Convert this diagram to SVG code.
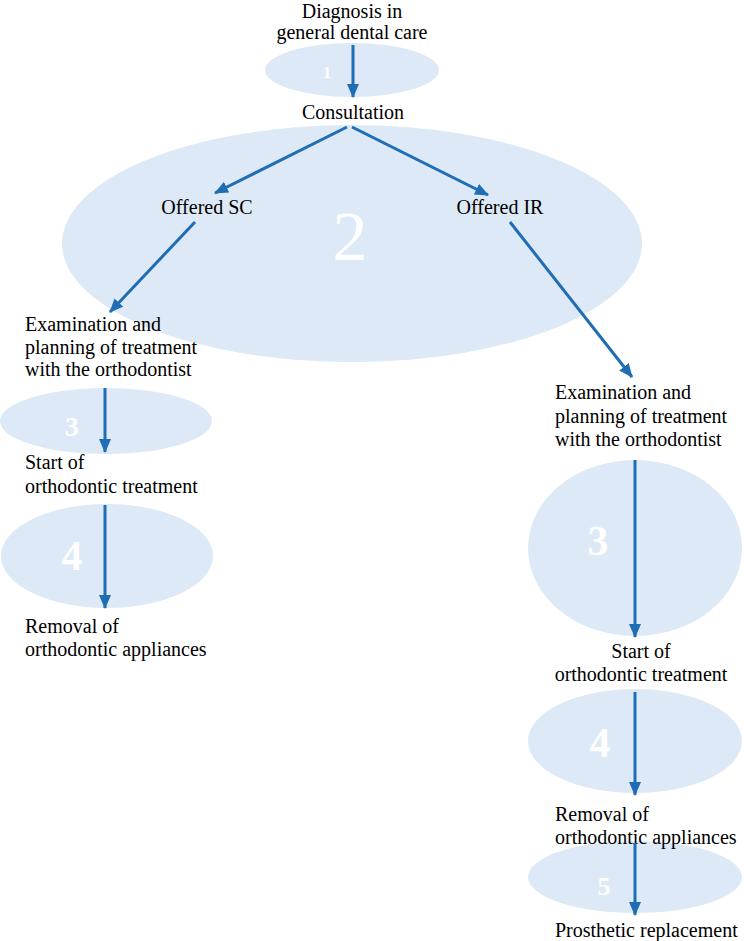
<svg xmlns="http://www.w3.org/2000/svg" width="744" height="941" viewBox="0 0 744 941">
<style>
.e{fill:#dde9f6}
.t{font-family:"Liberation Serif",serif;font-size:20px;fill:#000}
.m{text-anchor:middle}
.n{font-family:"Liberation Serif",serif;fill:#fff;font-weight:bold;text-anchor:middle}
.c line{stroke:#1f6db5;stroke-width:3;marker-end:url(#a)}
</style>
<defs><marker id="a" markerWidth="14" markerHeight="12" refX="13" refY="6" orient="auto" markerUnits="userSpaceOnUse"><path d="M0,0 L14,6 L0,12 Z" fill="#1f6db5"/></marker></defs>
<rect width="744" height="941" fill="#fff"/>
<g id="bg">
<ellipse class="e" cx="352" cy="70" rx="87" ry="27"/><text class="n" x="327" y="78" font-size="17">1</text>
<ellipse class="e" cx="352" cy="243.5" rx="290" ry="118.5"/><text x="350" y="260" font-size="70" fill="#fff" text-anchor="middle" font-family="Liberation Serif,serif">2</text>
<ellipse class="e" cx="106" cy="421" rx="106" ry="33"/><text class="n" x="72" y="436" font-size="28">3</text>
<ellipse class="e" cx="107" cy="556" rx="106" ry="52"/><text class="n" x="72" y="570" font-size="42">4</text>
<ellipse class="e" cx="635" cy="548" rx="107" ry="88"/><text class="n" x="598" y="555" font-size="42">3</text>
<ellipse class="e" cx="635" cy="741" rx="107" ry="52"/><text class="n" x="600" y="757" font-size="42">4</text>
<ellipse class="e" cx="635" cy="877" rx="107" ry="36"/><text class="n" x="604" y="895" font-size="26">5</text>
</g>
<g id="n1"><text class="t m" x="352" y="18">Diagnosis in</text><text class="t m" x="352" y="39">general dental care</text></g>
<g id="n2"><text class="t m" x="353" y="119">Consultation</text></g>
<g id="n3"><text class="t m" x="207" y="214">Offered SC</text></g>
<g id="n4"><text class="t m" x="500" y="214">Offered IR</text></g>
<g id="n5"><text class="t" x="25" y="331">Examination and</text><text class="t" x="25" y="354">planning of treatment</text><text class="t" x="25" y="376">with the orthodontist</text></g>
<g id="n6"><text class="t" x="25" y="469">Start of</text><text class="t" x="25" y="493">orthodontic treatment</text></g>
<g id="n7"><text class="t" x="25" y="633">Removal of</text><text class="t" x="25" y="656">orthodontic appliances</text></g>
<g id="n8"><text class="t" x="555" y="399">Examination and</text><text class="t" x="555" y="423">planning of treatment</text><text class="t" x="555" y="446">with the orthodontist</text></g>
<g id="n9"><text class="t m" x="641" y="658">Start of</text><text class="t m" x="641" y="681">orthodontic treatment</text></g>
<g id="n10"><text class="t" x="555" y="821">Removal of</text><text class="t" x="555" y="844">orthodontic appliances</text></g>
<g id="n11"><text class="t" x="555" y="937">Prosthetic replacement</text></g>
<g class="c" id="connectors">
<line x1="353" y1="45" x2="353" y2="97"/>
<line x1="347" y1="127" x2="215" y2="193"/>
<line x1="352" y1="127" x2="488" y2="195"/>
<line x1="195" y1="222" x2="110" y2="312"/>
<line x1="510" y1="222" x2="632" y2="377"/>
<line x1="105" y1="388" x2="105" y2="452"/>
<line x1="105" y1="505" x2="105" y2="608"/>
<line x1="635" y1="460" x2="635" y2="637"/>
<line x1="635" y1="692" x2="635" y2="795"/>
<line x1="635" y1="843" x2="635" y2="915"/>
</g>
</svg>
